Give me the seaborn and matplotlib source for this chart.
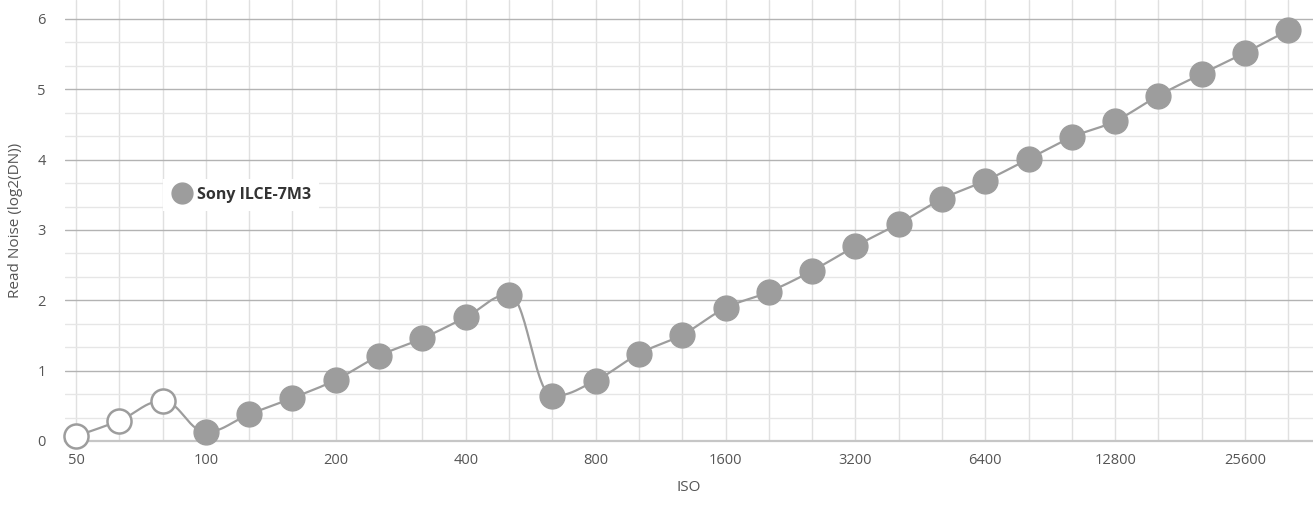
import numpy as np
import matplotlib
matplotlib.use("Agg")
import matplotlib.pyplot as plt
from matplotlib.ticker import FixedLocator, NullFormatter
from matplotlib.lines import Line2D
import seaborn as sns

# exact 1/3-stop ISO positions (labels are nominal 50, 64, 80, 100, ...)
iso = [50, 63, 79.4, 100, 126, 158.7, 200, 252, 317.5, 400, 504, 635, 800, 1008,
       1270, 1600, 2016, 2540, 3200, 4032, 5080, 6400, 8063, 10159, 12800, 16127,
       20319, 25600, 32254]
read_noise = [0.07, 0.29, 0.57, 0.13, 0.38, 0.61, 0.87, 1.21, 1.46, 1.76, 2.08,
              0.64, 0.86, 1.24, 1.51, 1.89, 2.12, 2.42, 2.77, 3.09, 3.44, 3.70,
              4.01, 4.32, 4.55, 4.91, 5.22, 5.52, 5.84]
extended = [True, True, True] + [False] * 26
iso_ticks = [50, 100, 200, 400, 800, 1600, 3200, 6400, 12800, 25600]
camera = "Sony ILCE-7M3"

GRAY = "#9d9d9d"


def spline_path(xs, ys, smoothing=1.5, steps=30):
    # highcharts style spline between points
    xs = np.asarray(xs, float)
    ys = np.asarray(ys, float)
    n = len(xs)
    lc = [None] * n
    rc = [None] * n
    denom = smoothing + 1
    for i in range(n):
        if i == 0 or i == n - 1:
            lc[i] = (xs[i], ys[i])
            rc[i] = (xs[i], ys[i])
            continue
        px, py = xs[i], ys[i]
        lx, ly = xs[i - 1], ys[i - 1]
        nx, ny = xs[i + 1], ys[i + 1]
        lcx = (smoothing * px + lx) / denom
        lcy = (smoothing * py + ly) / denom
        rcx = (smoothing * px + nx) / denom
        rcy = (smoothing * py + ny) / denom
        if rcx != lcx:
            corr = (rcy - lcy) * (rcx - px) / (rcx - lcx) + py - rcy
            lcy += corr
            rcy += corr
        if lcy > ly and lcy > py:
            lcy = max(ly, py)
            rcy = 2 * py - lcy
        elif lcy < ly and lcy < py:
            lcy = min(ly, py)
            rcy = 2 * py - lcy
        if rcy > ny and rcy > py:
            rcy = max(ny, py)
            lcy = 2 * py - rcy
        elif rcy < ny and rcy < py:
            rcy = min(ny, py)
            lcy = 2 * py - rcy
        lc[i] = (lcx, lcy)
        rc[i] = (rcx, rcy)
    out_x, out_y = [xs[0]], [ys[0]]
    t = np.linspace(0, 1, steps)[1:]
    for i in range(1, n):
        p0 = np.array([xs[i - 1], ys[i - 1]])
        p1 = np.array(rc[i - 1])
        p2 = np.array(lc[i])
        p3 = np.array([xs[i], ys[i]])
        pts = ((1 - t)[:, None] ** 3 * p0 + 3 * ((1 - t) ** 2 * t)[:, None] * p1
               + 3 * ((1 - t) * t ** 2)[:, None] * p2 + (t ** 3)[:, None] * p3)
        out_x.extend(pts[:, 0])
        out_y.extend(pts[:, 1])
    return np.array(out_x), np.array(out_y)


sns.set_style("white")
plt.rcParams["font.family"] = ["Open Sans", "DejaVu Sans"]

fig = plt.figure(figsize=(13.13, 5.19), dpi=100)
ax = fig.add_axes([0.0495, 0.1503, 0.9505, 0.8497])

lx = np.log2(iso)
sx, sy = spline_path(lx, read_noise)
ax.plot(2 ** sx, sy, color=GRAY, lw=1.6, zorder=3, clip_on=False)

filled = [not e for e in extended]
sns.scatterplot(x=np.array(iso)[filled], y=np.array(read_noise)[filled], ax=ax,
                s=320, color=GRAY, edgecolor=GRAY, linewidth=1, zorder=4,
                clip_on=False, legend=False)
sns.scatterplot(x=np.array(iso)[extended], y=np.array(read_noise)[extended], ax=ax,
                s=300, color="white", edgecolor=GRAY, linewidth=1.8, zorder=4,
                clip_on=False, legend=False)

ax.set_xscale("log", base=2)
ax.set_xlim(47.14, 36780)
ax.set_ylim(0, 6.27)

ax.xaxis.set_major_locator(FixedLocator(iso_ticks))
ax.set_xticklabels([str(v) for v in iso_ticks])
ax.xaxis.set_minor_locator(FixedLocator(iso))
ax.xaxis.set_minor_formatter(NullFormatter())
ax.set_yticks(range(0, 7))
ax.yaxis.set_minor_locator(FixedLocator([k / 3 for k in range(0, 19)]))

ax.grid(True, which="minor", axis="x", color="#e0e0e0", lw=1.0, zorder=0)
ax.grid(True, which="major", axis="x", color="#e0e0e0", lw=1.0, zorder=0)
ax.grid(True, which="minor", axis="y", color="#e6e6e6", lw=1.0, zorder=0)
ax.grid(True, which="major", axis="y", color="#b3b3b3", lw=1.0, zorder=1)
ax.set_axisbelow(True)

for side in ["top", "right", "left"]:
    ax.spines[side].set_visible(False)
ax.spines["bottom"].set_color("#c6c6c6")
ax.spines["bottom"].set_linewidth(1.6)

ax.tick_params(axis="x", which="major", length=6, width=1, color="#c6c6c6",
               labelsize=10.5, labelcolor="#555555", pad=3)
ax.tick_params(axis="x", which="minor", length=0)
ax.tick_params(axis="y", which="both", length=0, labelsize=10.5,
               labelcolor="#555555", pad=14)

ax.set_xlabel("ISO", fontsize=11, color="#555555", labelpad=8)
ax.set_ylabel("Read Noise (log2(DN))", fontsize=11, color="#555555", labelpad=10)

handle = Line2D([], [], marker="o", linestyle="none", markersize=15,
                markerfacecolor=GRAY, markeredgecolor=GRAY)
leg = ax.legend([handle], [camera], loc="upper left",
                bbox_to_anchor=(0.072, 0.613), frameon=True, fancybox=False,
                framealpha=1, edgecolor="white", handletextpad=0.25,
                borderpad=0.5, handlelength=1.4,
                prop={"weight": "bold", "size": 11.5})
leg.get_frame().set_linewidth(0)
for txt in leg.get_texts():
    txt.set_color("#333333")

fig.savefig("out.png", dpi=100)
